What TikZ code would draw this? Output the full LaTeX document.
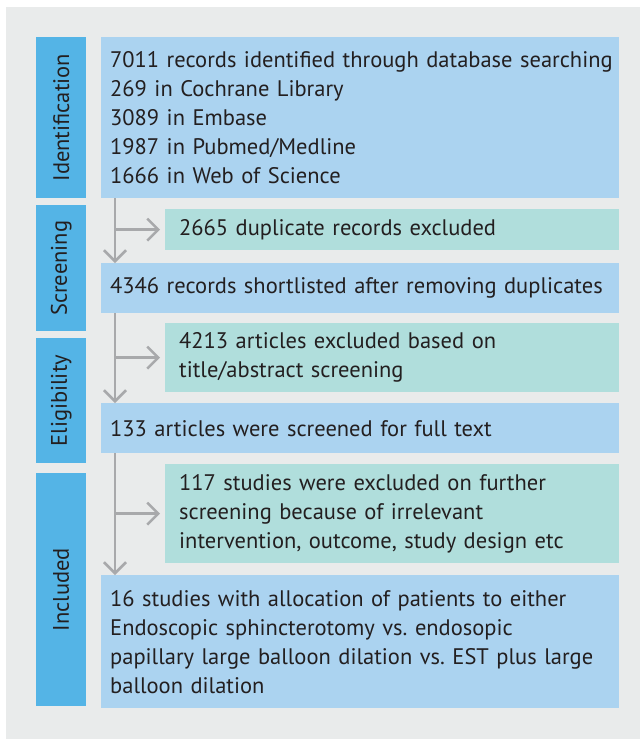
\documentclass[tikz,border=0pt]{standalone}
\usepackage{fontspec}
\setmainfont{PT Sans}
\usetikzlibrary{arrows.meta}
\hyphenpenalty=10000
\definecolor{panelgray}{HTML}{E9EBEB}
\definecolor{stageblue}{HTML}{54B4E6}
\definecolor{boxblue}{HTML}{ABD3F0}
\definecolor{boxteal}{HTML}{B0DEDC}
\definecolor{flowgray}{HTML}{A8A9AB}
\definecolor{inkdark}{HTML}{231F20}
\tikzset{
  every node/.style={font=\fontsize{22.5}{29}\selectfont, text=inkdark},
  stage/.style={fill=stageblue, draw=none, anchor=north west, inner sep=0pt,
    minimum width=50pt},
  stagetext/.style={rotate=90, inner sep=0pt},
  mainbox/.style={fill=boxblue, draw=none, anchor=north west, inner xsep=9pt,
    inner ysep=0pt, text width=500pt, align=left},
  exclbox/.style={fill=boxteal, draw=none, anchor=north west, inner xsep=14pt,
    inner ysep=0pt, text width=426pt, align=left},
  flow/.style={draw=flowgray, line width=2.5pt,
    -{Straight Barb[length=11pt,width=22pt,line width=2.5pt]}},
}
\begin{document}
\begin{tikzpicture}[x=1pt,y=-1pt]
  % canvas and grey panel
  \fill[white] (0,0) rectangle (640,742);
  \fill[panelgray] (6,7) rectangle (640,739);
  \useasboundingbox (0,0) rectangle (640,742);

  % stage labels down the left side
  \node[stage, minimum height=161pt] (sid) at (36,37) {};
  \node[stagetext] (tid) at (sid.center) {Identification};
  \node[stage, minimum height=126pt] (ssc) at (36,205) {};
  \node[stagetext] (tsc) at (ssc.center) {Screening};
  \node[stage, minimum height=125pt] (sel) at (36,338) {};
  \node[stagetext] (tel) at (sel.center) {Eligibility};
  \node[stage, minimum height=233pt] (sin) at (36,473) {};
  \node[stagetext] (tin) at (sin.center) {Included};

  % main flow boxes
  \node[mainbox, minimum height=161pt] (b1) at (101,37) {\mbox{7011 records identified through database searching}\\
    269 in Cochrane Library\\
    3089 in Embase\\
    1987 in Pubmed/Medline\\
    1666 in Web of Science};
  \node[mainbox, minimum height=50pt] (b2) at (101,263) {4346 records shortlisted after removing duplicates};
  \node[mainbox, minimum height=50pt] (b3) at (101,403) {133 articles were screened for full text};
  \node[mainbox, minimum height=133pt] (b4) at (101,575) {16 studies with allocation of patients to either\\
    Endoscopic sphincterotomy vs.\ endosopic\\
    papillary large balloon dilation vs.\ EST plus large\\
    balloon dilation};

  % exclusion boxes
  \node[exclbox, minimum height=41pt] (e1) at (165,209) {2665 duplicate records excluded};
  \node[exclbox, minimum height=69pt] (e2) at (165,323) {4213 articles excluded based on\\
    title/abstract screening};
  \node[exclbox, minimum height=99pt] (e3) at (165,464) {117 studies were excluded on further\\
    screening because of irrelevant\\
    intervention, outcome, study design etc};

  % branch points on the vertical flow line
  \coordinate (t1) at (115,198);
  \coordinate (t2) at (115,313);
  \coordinate (t3) at (115,453);

  % vertical connectors
  \draw[flow] (t1) -- (t1 |- b2.north);
  \draw[flow] (t2) -- (t2 |- b3.north);
  \draw[flow] (t3) -- (t3 |- b4.north);

  % side arrows into the exclusion boxes
  \draw[flow, shorten >=5pt] (t1 |- e1.west) -- (e1.west);
  \draw[flow, shorten >=5pt] (t2 |- e2.west) -- (e2.west);
  \draw[flow, shorten >=5pt] (t3 |- e3.west) -- (e3.west);
\end{tikzpicture}
\end{document}
